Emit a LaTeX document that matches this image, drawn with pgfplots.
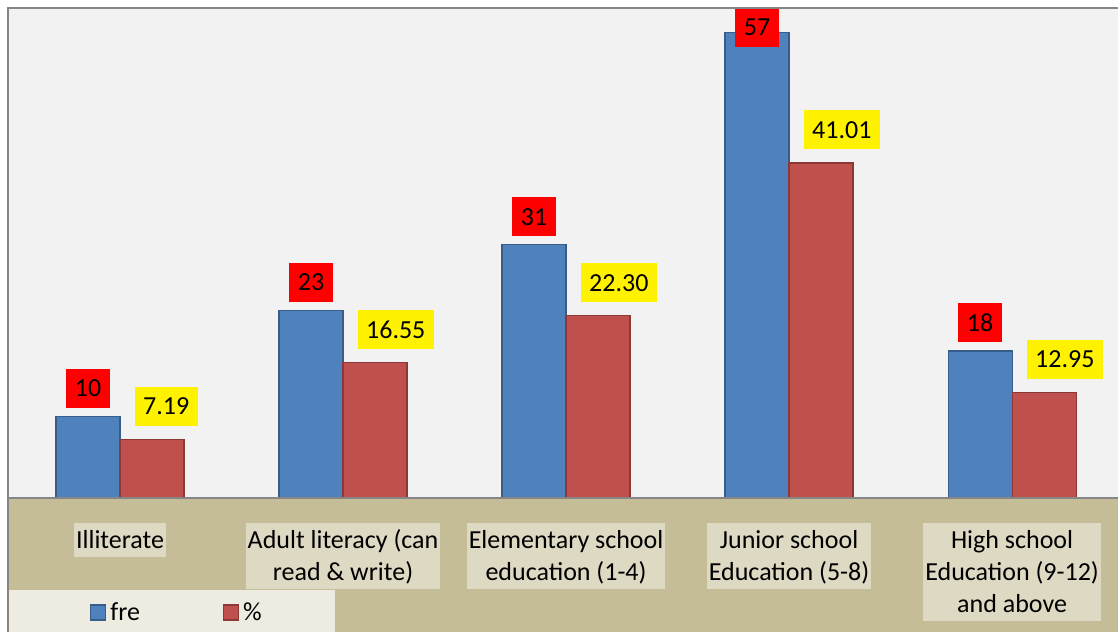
\documentclass[border=0pt]{standalone}
\usepackage{pgfplots}
\usepackage{pgfplotstable}
\pgfplotsset{compat=1.18}
\usepackage{fontspec}
\setmainfont{Carlito}
\definecolor{plotbg}{HTML}{F2F2F2}
\definecolor{tanbg}{HTML}{C4BD97}
\definecolor{lblbg}{HTML}{DDD9C3}
\definecolor{legbg}{HTML}{EEECE1}
\definecolor{barblue}{HTML}{4F81BD}
\definecolor{barblueedge}{HTML}{385D8A}
\definecolor{barred}{HTML}{C0504D}
\definecolor{barrededge}{HTML}{8C3836}
\definecolor{framegray}{HTML}{868686}
\newcommand\ms{\rule[-8pt]{0pt}{32pt}}

\pgfplotstableread{
x fre
0 10
1 23
2 31
3 57
4 18
}\fretable
\pgfplotstableread{
x pct
0 7.19
1 16.55
2 22.30
3 41.01
4 12.95
}\pcttable

\begin{document}
\begin{tikzpicture}[font=\fontsize{26}{32}\selectfont]
\useasboundingbox (0pt,0pt) rectangle (1118pt,632pt);
\fill[white] (0pt,0pt) rectangle (1118pt,632pt);
\fill[tanbg] (8pt,0pt) rectangle (1118pt,134pt);
\fill[legbg] (8pt,0pt) rectangle (335pt,42pt);
\begin{axis}[
  at={(8.5pt,134pt)}, anchor=south west,
  scale only axis, width=1109.5pt, height=490pt,
  xmin=-0.5, xmax=4.475, ymin=0, ymax=60,
  ybar=0pt, bar width=64pt,
  axis line style={draw=none},
  axis background/.style={fill=plotbg},
  ytick=\empty,
  xtick={0,1,2,3,4},
  xticklabels={{\ms Illiterate},
               {\ms Adult literacy (can\\\ms read \& write)},
               {\ms Elementary school\\\ms education (1-4)},
               {\ms Junior school\\\ms Education (5-8)},
               {\ms High school\\\ms Education (9-12)\\\ms and above}},
  major tick length=0pt,
  xticklabel style={anchor=north, yshift=-25pt, fill=lblbg, inner xsep=2pt, inner ysep=1pt, align=center},
  clip=false,
  legend columns=2,
  legend style={at={(axis description cs:0.0735,-0.2327)}, anchor=west, draw=none, fill=none,
    inner sep=0pt,
    /tikz/every odd column/.style={column sep=3pt},
    /tikz/every even column/.style={column sep=82pt},
    nodes={inner sep=1pt}},
  legend image code/.code={\draw[#1] (0pt,-8pt) rectangle (15pt,7pt);},
]
\addplot[fill=barblue, draw=barblueedge, line width=1.2pt,
  visualization depends on={rawy \as \rawyv},
  nodes near coords={\pgfmathprintnumber[fixed,precision=0,assume math mode=true]{\pgfplotspointmeta}},
  nodes near coords style={fill=red, text=black, inner xsep=8.5pt, inner ysep=11pt,
    text height=17pt, text depth=0pt, anchor=south, yshift={8pt-23pt*(\rawyv>50)}},
] table[x=x,y=fre]{\fretable};
\addlegendentry{fre}
\addplot[fill=barred, draw=barrededge, line width=1.2pt,
  nodes near coords={\pgfmathprintnumber[fixed,fixed zerofill,precision=2,assume math mode=true]{\pgfplotspointmeta}},
  nodes near coords style={fill=yellow, text=black, inner xsep=8.5pt, inner ysep=11pt,
    text height=17pt, text depth=0pt, anchor=south west, xshift=-18pt, yshift=13pt},
] table[x=x,y=pct]{\pcttable};
\addlegendentry{\%}
\end{axis}
\draw[framegray, line width=1.5pt] (8pt,0pt) -- (8pt,624pt) -- (1118pt,624pt);
\draw[framegray, line width=1.5pt] (8pt,134pt) -- (1118pt,134pt);
\end{tikzpicture}
\end{document}
